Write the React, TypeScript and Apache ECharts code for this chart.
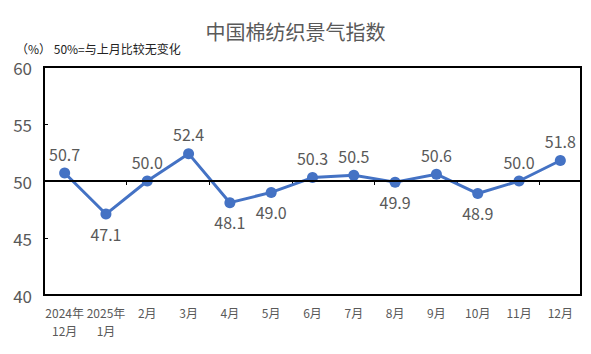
import React, { useEffect, useRef } from "react";
import * as echarts from "echarts";

const categories = ["2024年\n12月", "2025年\n1月", "2月", "3月", "4月", "5月", "6月", "7月", "8月", "9月", "10月", "11月", "12月"];
const values = [50.7, 47.1, 50.0, 52.4, 48.1, 49.0, 50.3, 50.5, 49.9, 50.6, 48.9, 50.0, 51.8];
const labelBelow = [false, true, false, false, true, true, false, false, true, false, true, false, false];

export default function App() {
  const ref = useRef<HTMLDivElement>(null);
  useEffect(() => {
    document.body.style.margin = "0";
    const chart = echarts.init(ref.current!, null, { renderer: "svg" });
    const font = "'Microsoft YaHei', 'Noto Sans CJK SC', sans-serif";
    chart.setOption({
      animation: false,
      textStyle: { fontFamily: font },
      title: [
        {
          text: "中国棉纺织景气指数",
          left: "center",
          top: 16,
          textStyle: { fontSize: 20, fontWeight: "normal", color: "#595959", fontFamily: font },
        },
        {
          text: "（%） 50%=与上月比较无变化",
          left: 11,
          top: 37,
          textStyle: { fontSize: 12, fontWeight: "normal", color: "#222", fontFamily: font },
        },
      ],
      grid: {
        left: 44,
        top: 67,
        right: 10,
        bottom: 59,
        show: true,
        borderColor: "#000",
        borderWidth: 2,
      },
      xAxis: [
        {
          type: "category",
          data: categories,
          boundaryGap: true,
          axisLine: { show: false },
          axisTick: { show: false },
          axisLabel: { color: "#595959", fontSize: 12, margin: 8, lineHeight: 18, interval: 0 },
        },
        {
          type: "category",
          data: categories,
          boundaryGap: true,
          position: "bottom",
          offset: -114,
          axisLine: { show: false },
          axisTick: { show: true, length: 4, lineStyle: { color: "#000", width: 1 } },
          axisLabel: { show: false },
        },
      ],
      yAxis: {
        type: "value",
        min: 40,
        max: 60,
        interval: 5,
        axisLine: { show: true, lineStyle: { color: "#000", width: 2 } },
        axisTick: { show: true, inside: true, length: 4, lineStyle: { color: "#000" } },
        splitLine: { show: false },
        axisLabel: { color: "#595959", fontSize: 17, margin: 12 },
      },
      series: [
        {
          type: "line",
          data: values.map((v, i) => ({
            value: v,
            label: {
              position: labelBelow[i] ? "bottom" : "top",
              distance: 6,
            },
          })),
          lineStyle: { color: "#4472C4", width: 3 },
          itemStyle: { color: "#4472C4" },
          symbol: "circle",
          symbolSize: 11,
          label: {
            show: true,
            color: "#595959",
            fontSize: 16,
            formatter: (p: any) => Number(p.value).toFixed(1),
          },
          markLine: {
            silent: true,
            symbol: "none",
            label: { show: false },
            lineStyle: { color: "#000", width: 2, type: "solid" },
            data: [{ yAxis: 50 }],
          },
          z: 3,
        },
      ],
    });
    return () => chart.dispose();
  }, []);
  return <div ref={ref} style={{ width: 591, height: 354 }} />;
}
